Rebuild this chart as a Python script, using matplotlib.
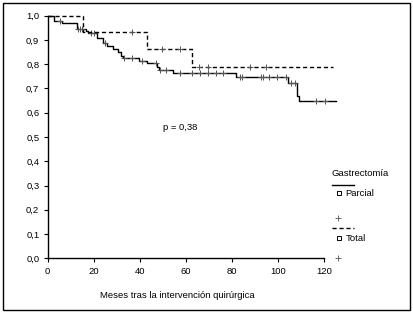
import numpy as np
import matplotlib
matplotlib.use("Agg")
import matplotlib.pyplot as plt
from matplotlib.patches import Rectangle
from matplotlib.lines import Line2D

plt.rcParams['font.family'] = ['Liberation Sans', 'DejaVu Sans']

# Kaplan-Meier: Gastrectomía parcial
parcial_t = [0, 2.9, 6.1, 12.9, 16.6, 17.6, 21.5, 24.2, 25.9, 28.5, 30.4, 31.7, 32.8,
             39.8, 43.0, 47.3, 48.5, 54.3, 81.6, 104.5, 108.4, 109.3]
parcial_s = [1.0, 0.980, 0.969, 0.944, 0.937, 0.927, 0.909, 0.886, 0.876, 0.863, 0.851,
             0.835, 0.824, 0.813, 0.803, 0.789, 0.778, 0.764, 0.746, 0.722, 0.671, 0.649]
parcial_end = 125
parcial_cens = [5.3, 13.2, 14.0, 14.8, 18.7, 20.2, 24.9, 33.1, 36.7, 40.8, 46.9, 48.8,
                51.2, 57.4, 62.5, 66.1, 69.7, 73.1, 76.2, 83.5, 84.5, 92.7, 93.5, 96.2,
                99.4, 103.5, 105.5, 107.4, 116.5, 120.5]

# Gastrectomía total
total_t = [0, 15.5, 43.0, 62.8]
total_s = [1.0, 0.932, 0.862, 0.787]
total_end = 124
total_cens = [36.7, 49.8, 57.4, 65.7, 69.7, 87.8, 94.8]

xticks = [0, 20, 40, 60, 80, 100, 120]
yticks = np.round(np.arange(0, 1.01, 0.1), 1)

FS = 6.8


def km_value(t, times, surv):
    idx = np.searchsorted(times, t, side='right') - 1
    return np.array(surv)[idx]


fig = plt.figure(figsize=(4.14, 3.13), dpi=100)
fig.patches.append(Rectangle((3 / 414, 3 / 313), 407 / 414, 307 / 313, transform=fig.transFigure,
                             fill=False, edgecolor='black', linewidth=1.0))

ax = fig.add_axes([0.1152, 0.1748, 0.8385 - 0.1152, 0.9498 - 0.1748])

for times, surv, end, cens, ls in [(parcial_t, parcial_s, parcial_end, parcial_cens, '-'),
                                   (total_t, total_s, total_end, total_cens, (0, (3, 2)))]:
    xs = list(times) + [end]
    ys = list(surv) + [surv[-1]]
    ax.step(xs, ys, where='post', color='black', linewidth=1.0, linestyle=ls, clip_on=False)
    ax.plot(cens, km_value(np.array(cens), times, surv), linestyle='none', marker='+',
            color='#555555', markersize=5, markeredgewidth=0.7, clip_on=False)

ax.set_xlim(0, 130)
ax.set_ylim(0, 1.0)
ax.spines['top'].set_visible(False)
ax.spines['right'].set_visible(False)
ax.spines['bottom'].set_bounds(0, 120)
ax.set_xticks(xticks)
ax.set_yticks(yticks)
ax.set_yticklabels([f"{v:.1f}".replace('.', ',') for v in yticks])
ax.tick_params(labelsize=FS, length=3, width=0.8, pad=3)
for s in ax.spines.values():
    s.set_linewidth(1.0)

fig.text(163 / 414, 1 - 128 / 313, "p = 0,38", fontsize=FS, va='center')
fig.text(0.428, 1 - 295.7 / 313, "Meses tras la intervención quirúrgica", ha='center', va='center',
         fontsize=FS)

# leyenda
fig.text(331.7 / 414, 1 - 173.3 / 313, "Gastrectomía", fontsize=FS, va='center')
fig.lines.append(Line2D([331.7 / 414, 354.3 / 414], [1 - 185 / 313] * 2, transform=fig.transFigure,
                        color='black', linewidth=1.0))
fig.lines.append(Line2D([331.7 / 414, 354.3 / 414], [1 - 228.3 / 313] * 2, transform=fig.transFigure,
                        color='black', linewidth=1.0, linestyle=(0, (3, 2))))
for ycen, lab in [(193.3, "Parcial"), (238.3, "Total")]:
    fig.lines.append(Line2D([339 / 414], [1 - ycen / 313], transform=fig.transFigure, marker='s',
                            markersize=3, markerfacecolor='white', markeredgecolor='black',
                            markeredgewidth=0.7, linestyle='none'))
    fig.text(345.7 / 414, 1 - ycen / 313, lab, fontsize=FS, va='center')
for ycen in [217.7, 258.3]:
    fig.lines.append(Line2D([338.3 / 414], [1 - ycen / 313], transform=fig.transFigure, marker='+',
                            markersize=4, color='#555555', markeredgewidth=0.6, linestyle='none'))

fig.savefig("out.png", dpi=100)
